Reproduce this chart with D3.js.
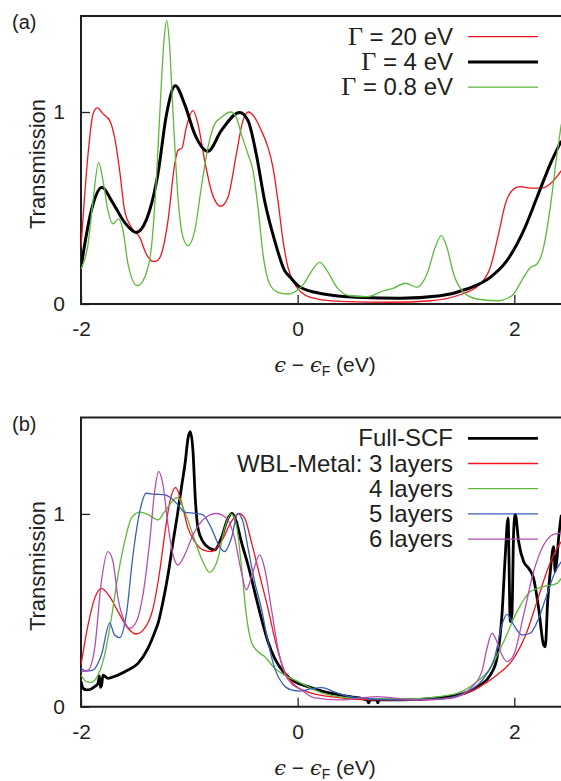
<!DOCTYPE html>
<html>
<head>
<meta charset="utf-8">
<script src="https://cdn.jsdelivr.net/npm/d3@7"></script>
<style>
  body { margin: 0; background: #fff; }
  svg { display: block; }
  text { font-family: "Liberation Sans", Arial, sans-serif; fill: #231f20; }
</style>
</head>
<body>
<div id="chart"></div>
<script>
// Panel (a): wide-band-limit coupling strength Γ
const gamma20 = [[-2,0.295],[-1.935,0.78],[-1.889,0.99],[-1.849,1.021],[-1.797,0.99],[-1.735,0.955],[-1.69,0.868],[-1.643,0.694],[-1.597,0.486],[-1.535,0.40],[-1.458,0.347],[-1.397,0.26],[-1.335,0.222],[-1.3,0.225],[-1.258,0.26],[-1.197,0.434],[-1.135,0.729],[-1.105,0.8],[-1.068,0.812],[-1.028,0.92],[-0.966,1.007],[-0.92,0.937],[-0.858,0.746],[-0.797,0.59],[-0.71,0.509],[-0.643,0.556],[-0.566,0.78],[-0.505,0.955],[-0.452,1.0],[-0.397,0.972],[-0.335,0.903],[-0.274,0.816],[-0.228,0.712],[-0.182,0.538],[-0.135,0.33],[-0.089,0.19],[-0.028,0.104],[0.034,0.061],[0.117,0.035],[0.394,0.014],[0.855,0.009],[1.225,0.017],[1.47,0.043],[1.686,0.104],[1.778,0.19],[1.855,0.365],[1.917,0.52],[1.978,0.59],[2.055,0.611],[2.148,0.604],[2.255,0.604],[2.348,0.634],[2.434,0.694]];
const gamma4 = [[-2,0.19],[-1.905,0.486],[-1.806,0.608],[-1.72,0.54],[-1.597,0.425],[-1.49,0.373],[-1.40,0.434],[-1.29,0.677],[-1.21,0.99],[-1.13,1.137],[-1.043,1.04],[-0.95,0.885],[-0.828,0.795],[-0.705,0.903],[-0.535,0.998],[-0.458,0.955],[-0.382,0.78],[-0.305,0.538],[-0.212,0.33],[-0.12,0.174],[-0.068,0.139],[0.025,0.087],[0.24,0.052],[0.548,0.035],[0.948,0.03],[1.317,0.043],[1.563,0.078],[1.778,0.139],[1.932,0.226],[2.086,0.382],[2.21,0.556],[2.332,0.729],[2.434,0.85]];
const gamma08 = [[-2,0.182],[-1.935,0.312],[-1.889,0.538],[-1.837,0.738],[-1.797,0.642],[-1.751,0.486],[-1.705,0.417],[-1.652,0.443],[-1.612,0.382],[-1.566,0.208],[-1.48,0.095],[-1.412,0.139],[-1.35,0.295],[-1.305,0.642],[-1.265,1.076],[-1.234,1.37],[-1.209,1.476],[-1.185,1.37],[-1.15,0.99],[-1.105,0.556],[-1.058,0.347],[-1.012,0.304],[-0.95,0.382],[-0.889,0.608],[-0.828,0.816],[-0.766,0.937],[-0.705,0.972],[-0.618,1.0],[-0.566,0.972],[-0.52,0.885],[-0.458,0.78],[-0.412,0.694],[-0.366,0.503],[-0.32,0.26],[-0.258,0.104],[-0.182,0.061],[-0.089,0.052],[-0.03,0.062],[0.055,0.104],[0.132,0.174],[0.203,0.217],[0.271,0.174],[0.363,0.087],[0.486,0.043],[0.64,0.038],[0.794,0.069],[0.886,0.083],[0.994,0.108],[1.10,0.087],[1.194,0.156],[1.27,0.295],[1.326,0.356],[1.378,0.295],[1.44,0.156],[1.532,0.061],[1.655,0.026],[1.84,0.017],[1.978,0.043],[2.086,0.139],[2.148,0.19],[2.209,0.208],[2.27,0.295],[2.332,0.503],[2.394,0.78],[2.434,0.937]];

// Panel (b): full SCF vs WBL-metal with n layers
const fullScf = [[-2,0.13],[-1.98,0.095],[-1.95,0.087],[-1.905,0.092],[-1.874,0.104],[-1.843,0.121],[-1.83,0.16],[-1.82,0.1],[-1.81,0.11],[-1.797,0.164],[-1.75,0.147],[-1.66,0.164],[-1.566,0.19],[-1.474,0.225],[-1.382,0.303],[-1.305,0.407],[-1.29,0.43],[-1.243,0.545],[-1.197,0.683],[-1.15,0.856],[-1.11,0.995],[-1.074,1.133],[-1.037,1.272],[-1.012,1.393],[-0.991,1.427],[-0.966,1.324],[-0.945,1.081],[-0.92,0.926],[-0.874,0.856],[-0.812,0.822],[-0.766,0.813],[-0.705,0.874],[-0.643,0.978],[-0.606,1.003],[-0.566,0.96],[-0.52,0.856],[-0.458,0.735],[-0.397,0.597],[-0.335,0.458],[-0.274,0.337],[-0.212,0.251],[-0.12,0.173],[-0.028,0.13],[0.095,0.104],[0.24,0.078],[0.486,0.052],[0.64,0.035],[0.655,0.02],[0.67,0.035],[0.73,0.035],[0.74,0.02],[0.75,0.035],[0.948,0.035],[1.317,0.047],[1.532,0.069],[1.686,0.112],[1.778,0.164],[1.84,0.251],[1.886,0.476],[1.917,0.787],[1.942,0.978],[1.963,0.441],[1.978,0.476],[1.994,0.908],[2.009,0.998],[2.04,0.856],[2.086,0.753],[2.132,0.718],[2.178,0.666],[2.225,0.51],[2.271,0.32],[2.286,0.311],[2.308,0.545],[2.332,0.70],[2.363,0.83],[2.378,0.70],[2.394,0.77],[2.409,0.874],[2.434,0.995]];
const layers3 = [[-2,0.216],[-1.935,0.424],[-1.874,0.562],[-1.812,0.614],[-1.735,0.571],[-1.658,0.493],[-1.566,0.407],[-1.49,0.377],[-1.412,0.407],[-1.335,0.51],[-1.274,0.70],[-1.228,0.891],[-1.18,1.064],[-1.126,1.137],[-1.074,1.064],[-1.012,0.926],[-0.95,0.856],[-0.874,0.813],[-0.797,0.804],[-0.705,0.856],[-0.612,0.96],[-0.542,1.003],[-0.489,0.978],[-0.428,0.856],[-0.351,0.683],[-0.274,0.51],[-0.197,0.32],[-0.12,0.182],[-0.028,0.112],[0.086,0.078],[0.30,0.052],[0.70,0.035],[1.163,0.035],[1.41,0.047],[1.655,0.095],[1.84,0.164],[1.994,0.251],[2.117,0.389],[2.209,0.545],[2.30,0.70],[2.394,0.822],[2.434,0.856]];
const layers4 = [[-2,0.164],[-1.95,0.13],[-1.905,0.126],[-1.843,0.164],[-1.782,0.268],[-1.72,0.458],[-1.658,0.683],[-1.597,0.856],[-1.535,0.978],[-1.458,1.009],[-1.382,0.998],[-1.289,0.969],[-1.228,1.012],[-1.11,1.085],[-1.043,1.012],[-0.966,0.891],[-0.889,0.77],[-0.812,0.697],[-0.735,0.77],[-0.674,0.926],[-0.612,1.0],[-0.566,0.943],[-0.52,0.735],[-0.474,0.476],[-0.428,0.337],[-0.366,0.285],[-0.305,0.26],[-0.212,0.199],[-0.12,0.164],[0.003,0.13],[0.095,0.104],[0.24,0.069],[0.548,0.043],[1.01,0.04],[1.41,0.061],[1.655,0.13],[1.778,0.199],[1.902,0.337],[2.025,0.493],[2.148,0.597],[2.271,0.623],[2.394,0.64],[2.434,0.666]];
const layers5 = [[-2,0.199],[-1.95,0.185],[-1.889,0.19],[-1.812,0.268],[-1.735,0.433],[-1.69,0.372],[-1.643,0.358],[-1.582,0.476],[-1.52,0.787],[-1.458,1.012],[-1.397,1.107],[-1.32,1.102],[-1.228,1.099],[-1.166,1.081],[-1.105,1.047],[-1.043,1.009],[-0.95,1.003],[-0.874,0.995],[-0.797,0.926],[-0.72,0.83],[-0.674,0.804],[-0.612,0.874],[-0.551,1.002],[-0.505,0.96],[-0.458,0.822],[-0.397,0.649],[-0.335,0.51],[-0.274,0.337],[-0.212,0.199],[-0.135,0.116],[-0.058,0.087],[0.025,0.081],[0.117,0.092],[0.225,0.099],[0.332,0.078],[0.486,0.052],[0.855,0.035],[1.317,0.04],[1.563,0.078],[1.717,0.147],[1.825,0.268],[1.886,0.424],[1.932,0.479],[1.994,0.424],[2.071,0.372],[2.148,0.381],[2.225,0.458],[2.30,0.58],[2.378,0.70],[2.434,0.753]];
const layers6 = [[-2,0.182],[-1.935,0.19],[-1.874,0.303],[-1.812,0.649],[-1.751,0.804],[-1.705,0.753],[-1.658,0.562],[-1.597,0.441],[-1.551,0.407],[-1.489,0.441],[-1.428,0.58],[-1.366,0.856],[-1.32,1.116],[-1.283,1.22],[-1.243,1.15],[-1.197,0.943],[-1.15,0.787],[-1.105,0.735],[-1.043,0.787],[-0.966,0.891],[-0.858,0.978],[-0.751,1.002],[-0.658,0.978],[-0.582,0.874],[-0.52,0.70],[-0.474,0.606],[-0.412,0.70],[-0.351,0.787],[-0.305,0.718],[-0.243,0.51],[-0.182,0.303],[-0.12,0.173],[-0.043,0.112],[0.034,0.087],[0.148,0.047],[0.394,0.035],[0.732,0.052],[1.10,0.035],[1.41,0.043],[1.594,0.095],[1.70,0.182],[1.748,0.303],[1.794,0.381],[1.84,0.337],[1.886,0.268],[1.932,0.234],[1.994,0.268],[2.086,0.476],[2.178,0.70],[2.271,0.839],[2.363,0.894],[2.434,0.90]];

const xTicks = [-2, 0, 2];
const yTicks = [0, 1];

const panels = [
  {
    tag: '(a)', top: 16, bottom: 304,
    series: [
      { label: 'Γ = 20 eV', data: gamma20, color: '#f0141e', width: 1.3 },
      { label: 'Γ = 4 eV', data: gamma4, color: '#000', width: 3 },
      { label: 'Γ = 0.8 eV', data: gamma08, color: '#5cb93c', width: 1.3 },
    ],
    legendY: 36.7,
  },
  {
    tag: '(b)', top: 417.5, bottom: 706.7,
    series: [
      { label: 'Full-SCF', data: fullScf, color: '#000', width: 2.8 },
      { label: 'WBL-Metal: 3 layers', data: layers3, color: '#f0141e', width: 1.3 },
      { label: '4 layers', data: layers4, color: '#5cb93c', width: 1.3 },
      { label: '5 layers', data: layers5, color: '#3a5db5', width: 1.3 },
      { label: '6 layers', data: layers6, color: '#b54fae', width: 1.3 },
    ],
    legendY: 438.3,
  },
];

const W = 561, H = 781;
const left = 81;
const svg = d3.select('#chart').append('svg').attr('width', W).attr('height', H);

const x = d3.scaleLinear().domain([-2, 2]).range([left, 514.3]);

panels.forEach((p, pi) => {
  const y = d3.scaleLinear().domain([0, 1.5]).range([p.bottom, p.top]);
  const g = svg.append('g');

  const clipId = `clip${pi}`;
  svg.append('clipPath').attr('id', clipId)
    .append('rect').attr('x', left).attr('y', p.top - 2).attr('width', W - left).attr('height', p.bottom - p.top + 2);

  // inward ticks, frame drawn separately
  g.append('g').attr('transform', `translate(0,${p.bottom})`)
    .call(d3.axisBottom(x).tickValues(xTicks).tickSize(-9).tickPadding(17).tickFormat(d3.format('d')))
    .call((a) => a.select('.domain').remove())
    .call((a) => a.selectAll('line').attr('stroke', '#231f20').attr('stroke-width', 1.3))
    .call((a) => a.selectAll('text').attr('font-size', 21).attr('font-family', '"Liberation Sans", Arial, sans-serif').attr('fill', '#231f20').text((d) => (d < 0 ? '-' + Math.abs(d) : d)));
  g.append('g').attr('transform', `translate(${left},0)`)
    .call(d3.axisLeft(y).tickValues(yTicks).tickSize(-9).tickPadding(16).tickFormat(d3.format('d')))
    .call((a) => a.select('.domain').remove())
    .call((a) => a.selectAll('line').attr('stroke', '#231f20').attr('stroke-width', 1.3))
    .call((a) => a.selectAll('text').attr('font-size', 21).attr('font-family', '"Liberation Sans", Arial, sans-serif').attr('fill', '#231f20'));

  // frame: top, left, bottom
  g.append('path')
    .attr('d', `M${W},${p.top}H${left}V${p.bottom}H${W}`)
    .attr('fill', 'none').attr('stroke', '#231f20').attr('stroke-width', 2);

  const line = d3.line().x((d) => x(d[0])).y((d) => y(d[1])).curve(d3.curveMonotoneX);
  const curves = g.append('g').attr('clip-path', `url(#${clipId})`);
  p.series.forEach((s) => {
    curves.append('path').datum(s.data)
      .attr('d', line)
      .attr('fill', 'none')
      .attr('stroke', s.color)
      .attr('stroke-width', s.width)
      .attr('stroke-linejoin', 'round');
  });

  // legend
  const lg = g.append('g');
  p.series.forEach((s, i) => {
    const ly = p.legendY + i * 25.2;
    const t = lg.append('text').attr('x', 453).attr('y', ly + 8).attr('text-anchor', 'end').attr('font-size', 24);
    if (s.label.startsWith('Γ')) {
      t.append('tspan').attr('font-family', '"Liberation Serif", "Times New Roman", serif').attr('font-size', 26).text('Γ');
      t.append('tspan').text(s.label.slice(1));
    } else {
      t.text(s.label);
    }
    lg.append('line').attr('x1', 468).attr('x2', 538).attr('y1', ly).attr('y2', ly)
      .attr('stroke', s.color).attr('stroke-width', s.width);
  });

  // panel tag
  g.append('text').attr('x', 12).attr('y', p.top + 13).attr('font-size', 20).text(p.tag);

  // y title
  const ym = (p.top + p.bottom) / 2 + 4;
  g.append('text')
    .attr('transform', `translate(45,${ym}) rotate(-90)`)
    .attr('text-anchor', 'middle').attr('font-size', 22)
    .text('Transmission');

  // x title: ϵ − ϵF (eV)
  const xt = g.append('text').attr('x', 325).attr('y', p.bottom + 68).attr('text-anchor', 'middle').attr('font-size', 21);
  xt.append('tspan').attr('font-family', '"DejaVu Serif", serif').attr('font-style', 'italic').text('ϵ');
  xt.append('tspan').text(' − ');
  xt.append('tspan').attr('font-family', '"DejaVu Serif", serif').attr('font-style', 'italic').text('ϵ');
  xt.append('tspan').attr('font-size', 14).attr('dy', 4).text('F');
  xt.append('tspan').attr('dy', -4).text(' (eV)');
});
</script>
</body>
</html>
